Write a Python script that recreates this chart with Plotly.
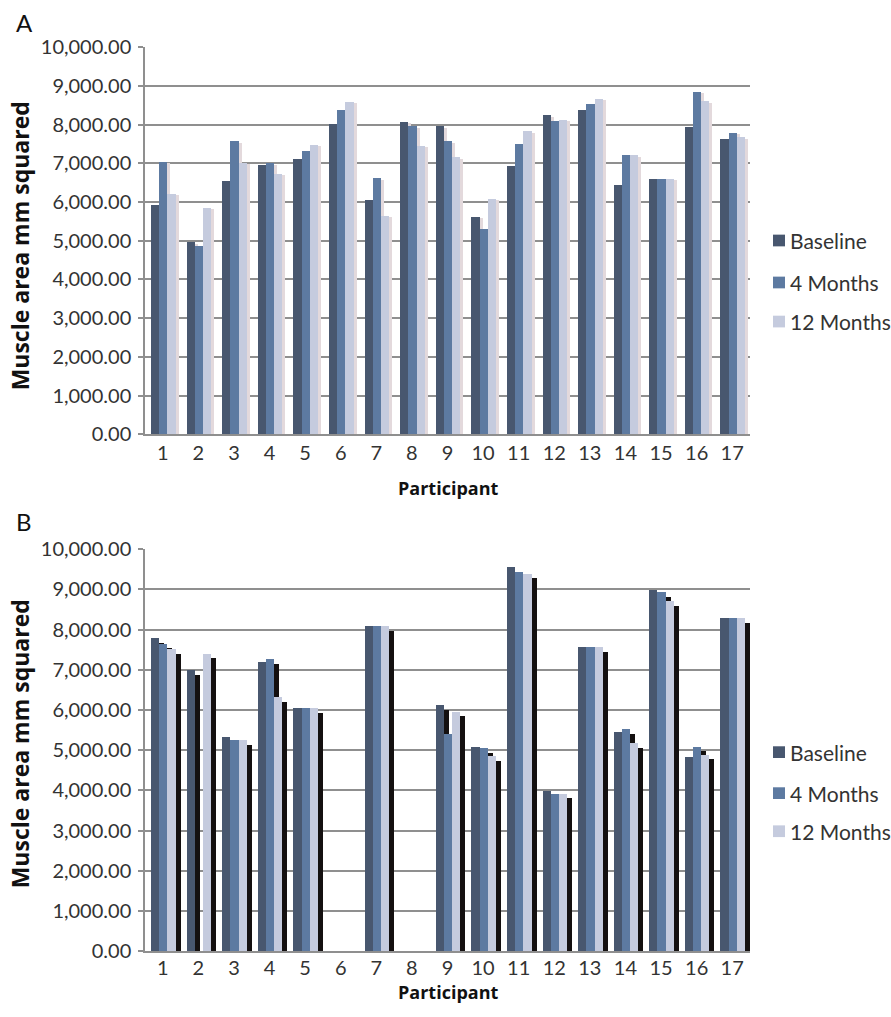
import plotly.graph_objects as go

# Participant ids
participants = list(range(1, 18))
series_names = ["Baseline", "4 Months", "12 Months"]

# Panel A: muscle area (mm^2)
a_baseline = [5910, 4960, 6550, 6940, 7120, 8000, 6060, 8070, 7950, 5610, 6920, 8240, 8360, 6440, 6600, 7930, 7620]
a_4months = [7040, 4850, 7570, 7000, 7320, 8370, 6610, 7950, 7570, 5290, 7490, 8090, 8520, 7220, 6600, 8840, 7790]
a_12months = [6210, 5850, 7010, 6720, 7480, 8590, 5640, 7450, 7150, 6080, 7820, 8120, 8660, 7200, 6600, 8600, 7670]

# Panel B: muscle area (mm^2); None = no measurement
b_baseline = [7790, 7000, 5320, 7190, 6040, None, 8080, None, 6120, 5070, 9560, 3980, 7560, 5450, 8980, 4820, 8290]
b_4months = [7650, None, 5260, 7270, 6040, None, 8080, None, 5410, 5050, 9440, 3920, 7560, 5530, 8920, 5090, 8290]
b_12months = [7520, 7400, 5260, 6310, 6040, None, 8080, None, 5960, 4850, 9390, 3920, 7560, 5180, 8700, 4890, 8290]

colors = ["#48576f", "#5d7aa1", "#c5cbde"]

W, H = 891, 1017
X0, X1 = 145, 750            # plot area, px
A_TOP, A_BOT = 35, 431.5
B_TOP, B_BOT = 549, 961
YMAX = 10000

px_per_unit_x = (X1 - X0) / 17.0
bar_w = 8.2 / px_per_unit_x
offsets = [-0.33, -0.33 + bar_w, -0.33 + 2 * bar_w]

FONT = "Lato, 'Open Sans', Arial, sans-serif"
TITLE_FONT = "'Open Sans', Lato, Arial, sans-serif"
TXT = "#333333"
GRID = "#8f8f8f"


def py(y):
    """pixel row (from top) -> paper fraction"""
    return 1 - y / H


fig = go.Figure()


def add_panel(values, xa, ya, top, bot, shadow_px, drop_px, shadow_color):
    per_val = (bot - top) / YMAX
    drop = drop_px / per_val
    shift = shadow_px / px_per_unit_x
    # drop shadows first, so the bars sit on top of them
    for k, vals in enumerate(values):
        fig.add_trace(go.Bar(
            x=participants,
            y=[None if v is None else v - drop for v in vals],
            width=bar_w, offset=offsets[k] + shift,
            marker=dict(color=shadow_color, line=dict(width=0)),
            xaxis=xa, yaxis=ya, showlegend=False, hoverinfo="skip",
        ))
    for k, vals in enumerate(values):
        fig.add_trace(go.Bar(
            x=participants, y=vals, name=series_names[k],
            width=bar_w, offset=offsets[k],
            marker=dict(color=colors[k], line=dict(width=0)),
            xaxis=xa, yaxis=ya, showlegend=False,
        ))


add_panel([a_baseline, a_4months, a_12months], "x", "y",
          A_TOP, A_BOT, 3, 1.5, "#e3d9dc")
add_panel([b_baseline, b_4months, b_12months], "x2", "y2",
          B_TOP, B_BOT, 5, 5, "#141010")

xdom = [X0 / W, X1 / W]
ydomA = [py(A_BOT), py(A_TOP)]
ydomB = [py(B_BOT), py(B_TOP)]

yticks = list(range(0, 10001, 1000))
yticktext = [f"{v:,.2f}" for v in yticks]

xaxis_style = dict(
    range=[0.5, 17.5], tickvals=participants, ticktext=[str(p) for p in participants],
    showgrid=False, zeroline=False, showline=True, linecolor=GRID, linewidth=1.5,
    ticks="", tickfont=dict(family=FONT, size=20, color=TXT), fixedrange=True,
)
yaxis_style = dict(
    range=[0, YMAX], tickvals=yticks, ticktext=yticktext,
    showgrid=True, gridcolor=GRID, gridwidth=1.5, zeroline=False,
    showline=True, linecolor=GRID, linewidth=1.5,
    ticks="outside", ticklen=5, tickcolor=GRID, tickwidth=1.5,
    tickfont=dict(family=FONT, size=20, color=TXT), ticklabelstandoff=3,
    fixedrange=True,
)

annotations = [
    dict(text="A", x=14 / W, y=py(10), xref="paper", yref="paper", xanchor="left",
         yanchor="middle", showarrow=False, font=dict(family=FONT, size=24, color="#111")),
    dict(text="B", x=14 / W, y=py(521), xref="paper", yref="paper", xanchor="left",
         yanchor="middle", showarrow=False, font=dict(family=FONT, size=24, color="#111")),
]
shapes = []
# axis titles
for ytitle_c, xlab_y, xlab_anchor in [(239, 486, "middle"), (749, 0, "bottom")]:
    annotations.append(dict(
        text="<b>Muscle area mm squared</b>", x=20 / W, y=py(ytitle_c),
        xref="paper", yref="paper", textangle=-90, showarrow=False,
        xanchor="center", yanchor="middle", font=dict(family=TITLE_FONT, size=23, color="#111")))
    annotations.append(dict(
        text="<b>Participant</b>", x=(X0 + X1) / 2 / W,
        y=py(xlab_y) if xlab_anchor == "middle" else 0,
        xref="paper", yref="paper", showarrow=False, xanchor="center", yanchor=xlab_anchor,
        font=dict(family=TITLE_FONT, size=18, color="#111")))

# legends: colour swatch + series name, one per panel
for rows in ([233, 276, 316], [757, 799, 838]):
    for k, yc in enumerate(rows):
        shapes.append(dict(type="rect", xref="paper", yref="paper",
                           x0=773 / W, x1=785 / W, y0=py(yc + 6), y1=py(yc - 6),
                           fillcolor=colors[k], line=dict(width=0)))
        annotations.append(dict(text=series_names[k], x=788 / W, y=py(yc),
                                xref="paper", yref="paper", xanchor="left", yanchor="middle",
                                showarrow=False, font=dict(family=FONT, size=21, color=TXT)))

fig.update_layout(
    width=W, height=H, margin=dict(l=0, r=0, t=0, b=0),
    paper_bgcolor="white", plot_bgcolor="white",
    barmode="overlay", bargap=0,
    xaxis=dict(domain=xdom, anchor="y", **xaxis_style),
    yaxis=dict(domain=ydomA, anchor="x", **yaxis_style),
    xaxis2=dict(domain=xdom, anchor="y2", ticklabelstandoff=-2, **xaxis_style),
    yaxis2=dict(domain=ydomB, anchor="x2", **yaxis_style),
    annotations=annotations,
    shapes=shapes,
    showlegend=False,
)

fig.write_html("out.html")
